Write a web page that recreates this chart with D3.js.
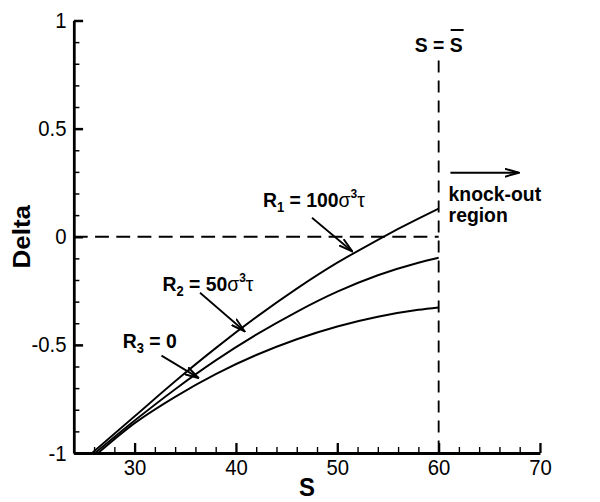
<!DOCTYPE html>
<html>
<head>
<meta charset="utf-8">
<script src="https://cdn.jsdelivr.net/npm/d3@7"></script>
<style>
  body { margin: 0; background: #fff; }
  svg { display: block; }
  svg text { font-family: "Liberation Sans", Arial, Helvetica, sans-serif; fill: #000; }
</style>
</head>
<body>
<div id="chart"></div>
<script>
const sR1 = [25.8, 30, 34, 38, 42, 46, 50, 52, 54, 56, 58, 60];
const dR1 = [-1, -0.83, -0.668, -0.515, -0.372, -0.24, -0.12, -0.066, -0.014, 0.036, 0.084, 0.13];
const sR2 = [26.1, 30, 34, 38, 42, 46, 50, 54, 58, 60];
const dR2 = [-1, -0.85, -0.705, -0.572, -0.453, -0.347, -0.254, -0.178, -0.12, -0.097];
const sR3 = [26.4, 30, 34, 38, 42, 46, 50, 54, 58, 60];
const dR3 = [-1, -0.862, -0.74, -0.635, -0.547, -0.474, -0.415, -0.37, -0.338, -0.327];

const xTicks = [30, 40, 50, 60, 70];
const xTickLabels = ['30', '40', '50', '60', '70'];
const xMinor = [26, 28, 32, 34, 36, 38, 42, 44, 46, 48, 52, 54, 56, 58, 62, 64, 66, 68];
const yTicks = [-1, -0.5, 0, 0.5, 1];
const yTickLabels = ['-1', '-0.5', '0', '0.5', '1'];
const yMinor = [-0.9, -0.8, -0.7, -0.6, -0.4, -0.3, -0.2, -0.1, 0.1, 0.2, 0.3, 0.4, 0.6, 0.7, 0.8, 0.9];

const sBar = 60;

// drawn on a 650 wide canvas, squeezed into the 600px window
const vbW = 650, vbH = 502;
const margin = { top: 20.5, right: 65, bottom: 49, left: 80 };

const svg = d3.select('#chart').append('svg')
    .attr('width', 600)
    .attr('height', 502)
    .attr('viewBox', `0 0 ${vbW} ${vbH}`)
    .attr('preserveAspectRatio', 'none');

const x = d3.scaleLinear().domain([24, 70]).range([margin.left, vbW - margin.right]);
const y = d3.scaleLinear().domain([-1, 1]).range([vbH - margin.bottom, margin.top]);

// open arrow head
svg.append('defs').append('marker')
    .attr('id', 'vhead')
    .attr('viewBox', '0 0 16 10')
    .attr('refX', 15).attr('refY', 5)
    .attr('markerWidth', 16).attr('markerHeight', 10)
    .attr('markerUnits', 'userSpaceOnUse')
    .attr('orient', 'auto')
    .append('path')
    .attr('d', 'M0,1 L15,5 L0,9')
    .attr('fill', 'none')
    .attr('stroke', '#000')
    .attr('stroke-width', 2);

// dashed reference lines
svg.append('line')
    .attr('x1', x(24)).attr('x2', x(sBar))
    .attr('y1', y(0)).attr('y2', y(0))
    .attr('stroke', '#000').attr('stroke-width', 2)
    .attr('stroke-dasharray', '15,8');

svg.append('line')
    .attr('x1', x(sBar)).attr('x2', x(sBar))
    .attr('y1', y(0.815)).attr('y2', y(-1))
    .attr('stroke', '#000').attr('stroke-width', 2)
    .attr('stroke-dasharray', '12,8');

// curves
const line = d3.line()
    .x(d => x(d[0]))
    .y(d => y(d[1]))
    .curve(d3.curveMonotoneX);

[[sR1, dR1], [sR2, dR2], [sR3, dR3]].forEach(([s, d]) => {
    svg.append('path')
        .datum(s.map((v, i) => [v, d[i]]))
        .attr('d', line)
        .attr('fill', 'none')
        .attr('stroke', '#000')
        .attr('stroke-width', 2);
});

// minor ticks
svg.append('g')
    .attr('transform', `translate(0,${y(-1)})`)
    .call(d3.axisBottom(x).tickValues(xMinor).tickSize(-6).tickFormat(''))
    .call(g => g.select('.domain').remove())
    .call(g => g.selectAll('line').attr('stroke-width', 1.5));

svg.append('g')
    .attr('transform', `translate(${x(24)},0)`)
    .call(d3.axisLeft(y).tickValues(yMinor).tickSize(-6).tickFormat(''))
    .call(g => g.select('.domain').remove())
    .call(g => g.selectAll('line').attr('stroke-width', 1.5));

// major axes
const xAxis = svg.append('g')
    .attr('transform', `translate(0,${y(-1)})`)
    .call(d3.axisBottom(x).tickValues(xTicks).tickSizeInner(-10).tickSizeOuter(0)
        .tickPadding(6).tickFormat((d, i) => xTickLabels[i]));
xAxis.select('.domain').attr('stroke-width', 3);
xAxis.selectAll('line').attr('stroke-width', 2.5);
xAxis.selectAll('text').attr('font-size', 22).attr('font-family', null);

const yAxis = svg.append('g')
    .attr('transform', `translate(${x(24)},0)`)
    .call(d3.axisLeft(y).tickValues(yTicks).tickSizeInner(-10).tickSizeOuter(0)
        .tickPadding(8).tickFormat((d, i) => yTickLabels[i]));
yAxis.select('.domain').attr('stroke-width', 3);
yAxis.selectAll('line').attr('stroke-width', 2.5);
yAxis.selectAll('text').attr('font-size', 22).attr('font-family', null);

// axis titles
svg.append('text')
    .attr('x', (x(24) + x(70)) / 2)
    .attr('y', 496)
    .attr('text-anchor', 'middle')
    .attr('font-size', 26).attr('font-weight', 'bold')
    .text('S');

svg.append('text')
    .attr('transform', `translate(33,${(y(-1) + y(1)) / 2}) rotate(-90)`)
    .attr('text-anchor', 'middle')
    .attr('font-size', 26).attr('font-weight', 'bold')
    .text('Delta');

// curve labels
function rLabel(sx, dy, sub, value, withUnits) {
    const t = svg.append('text')
        .attr('x', x(sx)).attr('y', y(dy))
        .attr('font-size', 21).attr('font-weight', 'bold');
    t.append('tspan').text('R');
    t.append('tspan').attr('font-size', 14).attr('dy', 5).text(sub);
    t.append('tspan').attr('dy', -5).text(' = ' + value);
    if (withUnits) {
        t.append('tspan').attr('font-weight', 'normal').text('σ');
        t.append('tspan').attr('font-size', 13).attr('dy', -9).text('3');
        t.append('tspan').attr('font-weight', 'normal').attr('dy', 9).text('τ');
    }
}

function arrow(s1, d1, s2, d2) {
    svg.append('line')
        .attr('x1', x(s1)).attr('y1', y(d1))
        .attr('x2', x(s2)).attr('y2', y(d2))
        .attr('stroke', '#000').attr('stroke-width', 2)
        .attr('marker-end', 'url(#vhead)');
}

rLabel(42.67, 0.139, '1', '100', true);
arrow(47.5, 0.088, 51.48, -0.068);

rLabel(32.74, -0.253, '2', '50', true);
arrow(36.45, -0.259, 40.85, -0.437);

rLabel(28.83, -0.514, '3', '0', false);
arrow(32.65, -0.55, 36.3, -0.653);

// S = S-bar
svg.append('text')
    .attr('x', x(sBar)).attr('y', y(0.854))
    .attr('text-anchor', 'middle')
    .attr('font-size', 21).attr('font-weight', 'bold')
    .text('S = S');
svg.append('line')
    .attr('x1', x(sBar) + 13).attr('x2', x(sBar) + 27)
    .attr('y1', 30).attr('y2', 30)
    .attr('stroke', '#000').attr('stroke-width', 2);

// knock-out region
arrow(61.16, 0.296, 67.9, 0.296);
svg.append('text')
    .attr('x', x(60.98)).attr('y', y(0.167))
    .attr('font-size', 21).attr('font-weight', 'bold')
    .text('knock-out');
svg.append('text')
    .attr('x', x(60.98)).attr('y', y(0.07))
    .attr('font-size', 21).attr('font-weight', 'bold')
    .text('region');
</script>
</body>
</html>
